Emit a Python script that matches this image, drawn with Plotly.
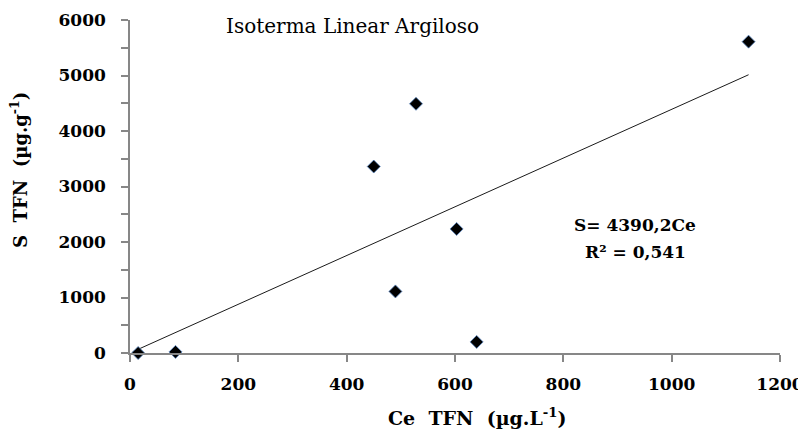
import plotly.graph_objects as go

# Data
ce_values = [15, 84, 450, 528, 490, 603, 640, 1142]
s_values = [0, 20, 3360, 4490, 1110, 2235, 200, 5610]

trend_x = [5, 1142]
trend_slope = 4.3902  # S = 4390,2 Ce (units)
trend_y = [trend_slope * v for v in trend_x]

y_ticks = [0, 1000, 2000, 3000, 4000, 5000, 6000]
x_ticks = [0, 200, 400, 600, 800, 1000, 1200]

FONT = "DejaVu Serif"
AXIS_COLOR = "#878787"

# The page body adds an 8px offset, so the figure is sized to fit the window.
OFF = 8
W, H = 806 - OFF, 436 - OFF
plot_l, plot_r, plot_t, plot_b = 130 - OFF, 780 - OFF, 20 - OFF, 353 - OFF


def px_to_paper(px, py):
    px -= OFF
    py -= OFF
    return (px - plot_l) / (plot_r - plot_l), (plot_b - py) / (plot_b - plot_t)


fig = go.Figure()
fig.add_trace(go.Scatter(
    x=trend_x, y=trend_y, mode="lines",
    line=dict(color="#1a1a1a", width=1),
    showlegend=False, hoverinfo="skip",
))
fig.add_trace(go.Scatter(
    x=ce_values, y=s_values, mode="markers",
    marker=dict(symbol="diamond", size=10, color="black",
                line=dict(color="#5a86c0", width=0.8)),
    showlegend=False, cliponaxis=False,
))

tickfont = dict(family=FONT, size=17, color="black", weight="bold")

fig.update_layout(
    width=W, height=H,
    margin=dict(l=plot_l, r=W - plot_r, t=plot_t, b=H - plot_b),
    paper_bgcolor="white", plot_bgcolor="white",
    font=dict(family=FONT, color="black"),
    xaxis=dict(
        range=[0, 1200], tickvals=x_ticks, ticktext=[str(v) for v in x_ticks],
        showgrid=False, zeroline=False, automargin=False,
        showline=True, linecolor=AXIS_COLOR, linewidth=1.5,
        ticks="outside", ticklen=7, tickcolor=AXIS_COLOR, tickwidth=1.5,
        tickfont=tickfont, ticklabelstandoff=8,
    ),
    yaxis=dict(
        range=[0, 6000], tickvals=y_ticks, ticktext=[str(v) for v in y_ticks],
        showgrid=False, zeroline=False, automargin=False,
        showline=True, linecolor=AXIS_COLOR, linewidth=1.5,
        ticks="outside", ticklen=7, tickcolor=AXIS_COLOR, tickwidth=1.5,
        minor=dict(dtick=500, tick0=0, ticks="outside", ticklen=7,
                   tickcolor=AXIS_COLOR, tickwidth=1.5),
        tickfont=tickfont, ticklabelstandoff=12,
    ),
)

annots = [
    ("Isoterma Linear Argiloso", 352, 26, 20, "normal", 0),
    ("S= 4390,2Ce", 635, 225, 17, "bold", 0),
    ("R² = 0,541", 635, 252, 17, "bold", 0),
    ("Ce  TFN  (µg.L<sup>-1</sup>)", 477, 417, 19, "bold", 0),
    ("S  TFN  (µg.g<sup>-1</sup>)", 19, 170, 18, "bold", -90),
]
for text, px, py, size, weight, angle in annots:
    ax, ay = px_to_paper(px, py)
    fig.add_annotation(
        text=text, x=ax, y=ay, xref="paper", yref="paper",
        showarrow=False, textangle=angle,
        font=dict(family=FONT, size=size, color="black", weight=weight),
        xanchor="center", yanchor="middle",
    )

fig.write_html("out.html")
